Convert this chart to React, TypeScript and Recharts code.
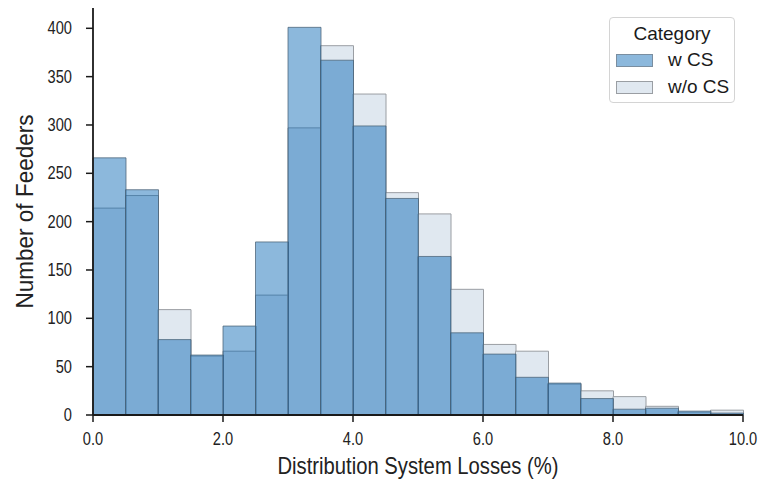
import React from "react";
import { BarChart, Bar, XAxis, YAxis } from "recharts";

// histogram bins: 0.5 % wide, 0 to 10 %
const binStarts = [0, 0.5, 1, 1.5, 2, 2.5, 3, 3.5, 4, 4.5, 5, 5.5, 6, 6.5, 7, 7.5, 8, 8.5, 9, 9.5];
const withCS = [266, 233, 78, 62, 92, 179, 401, 367, 299, 224, 164, 85, 63, 39, 33, 17, 6, 7, 4, 2];
const withoutCS = [214, 227, 109, 61, 66, 124, 297, 382, 332, 230, 208, 130, 73, 66, 32, 25, 19, 9, 3, 5];
const xTicks = [0, 2, 4, 6, 8, 10];
const yTicks = [0, 50, 100, 150, 200, 250, 300, 350, 400];

const data = binStarts.map((b, i) => ({
  bin: b.toFixed(1),
  mid: b + 0.25,
  wCS: withCS[i],
  woCS: withoutCS[i],
}));

const sans = "'Liberation Sans', Arial, sans-serif";
const axisColor = "#1a1a1a";
const textColor = "#222";

const legendItems = [
  { label: "w CS", fill: "#8cb8dc", stroke: "#7a8ea0" },
  { label: "w/o CS", fill: "#e0e8f0", stroke: "#9a9ea3" },
];

// condensed text: Liberation Sans squeezed horizontally
function NarrowText({ x, y, sx, children, anchor = "middle", size = 18, rotate = 0 }: any) {
  return (
    <g transform={`translate(${x},${y}) rotate(${rotate})`}>
      <text
        transform={`scale(${sx},1)`}
        textAnchor={anchor}
        dominantBaseline="central"
        fill={textColor}
        fontSize={size}
        fontFamily={sans}
      >
        {children}
      </text>
    </g>
  );
}

function XTick({ x, y, payload }: any) {
  return (
    <NarrowText x={x} y={y + 15} sx={0.77} size={19}>
      {Number(payload.value).toFixed(1)}
    </NarrowText>
  );
}

function YTick({ x, y, payload }: any) {
  return (
    <NarrowText x={x - 12} y={y} sx={0.77} size={19} anchor="end">
      {payload.value}
    </NarrowText>
  );
}

function CategoryLegend() {
  return (
    <div
      style={{
        position: "absolute",
        left: 609,
        top: 17,
        width: 126,
        height: 86,
        border: "1px solid #d4d4d4",
        borderRadius: 4,
        background: "#fff",
        fontFamily: sans,
        color: "#1a1a1a",
        boxSizing: "border-box",
      }}
    >
      <div style={{ textAlign: "center", fontSize: 19, marginTop: 5, lineHeight: "22px" }}>Category</div>
      {legendItems.map((it, i) => (
        <div key={it.label} style={{ display: "flex", alignItems: "center", marginTop: i === 0 ? 5 : 7, marginLeft: 6 }}>
          <div
            style={{
              width: 37,
              height: 13,
              background: it.fill,
              border: `1px solid ${it.stroke}`,
              boxSizing: "border-box",
            }}
          />
          <span style={{ fontSize: 19, marginLeft: 15, lineHeight: "20px" }}>{it.label}</span>
        </div>
      ))}
    </div>
  );
}

export default function App() {
  return (
    <div style={{ position: "absolute", left: 0, top: 0, width: 761, height: 485, background: "#fff" }}>
      <BarChart
        width={761}
        height={485}
        data={data}
        barCategoryGap={0}
        barGap={0}
        margin={{ top: 8, right: 18, bottom: 0, left: 0 }}
      >
        <XAxis xAxisId="a" dataKey="bin" type="category" hide height={0} />
        <XAxis xAxisId="b" dataKey="bin" type="category" hide height={0} />
        <XAxis
          xAxisId="num"
          dataKey="mid"
          type="number"
          domain={[0, 10]}
          allowDataOverflow
          ticks={xTicks}
          height={70}
          tickSize={7}
          axisLine={{ stroke: axisColor, strokeWidth: 1.8 }}
          tickLine={{ stroke: axisColor, strokeWidth: 1.5 }}
          tick={<XTick />}
          label={({ viewBox }: any) => (
            <NarrowText x={viewBox.x + viewBox.width / 2} y={466} sx={0.88} size={23}>
              Distribution System Losses (%)
            </NarrowText>
          )}
        />
        <YAxis
          domain={[0, 421]}
          ticks={yTicks}
          width={93}
          tickSize={7}
          allowDataOverflow
          axisLine={{ stroke: axisColor, strokeWidth: 1.8 }}
          tickLine={{ stroke: axisColor, strokeWidth: 1.5 }}
          tick={<YTick />}
          label={({ viewBox }: any) => (
            <NarrowText x={25} y={viewBox.y + viewBox.height / 2} sx={0.98} size={23} rotate={-90}>
              Number of Feeders
            </NarrowText>
          )}
        />
        <Bar
          xAxisId="b"
          dataKey="woCS"
          name="w/o CS"
          fill="#e0e8f0"
          stroke="#9a9ea3"
          strokeWidth={1}
          isAnimationActive={false}
        />
        <Bar
          xAxisId="a"
          dataKey="wCS"
          name="w CS"
          fill="#0061b1"
          fillOpacity={0.45}
          stroke="#4a6276"
          strokeOpacity={0.75}
          strokeWidth={1}
          isAnimationActive={false}
        />
      </BarChart>
      <CategoryLegend />
    </div>
  );
}
